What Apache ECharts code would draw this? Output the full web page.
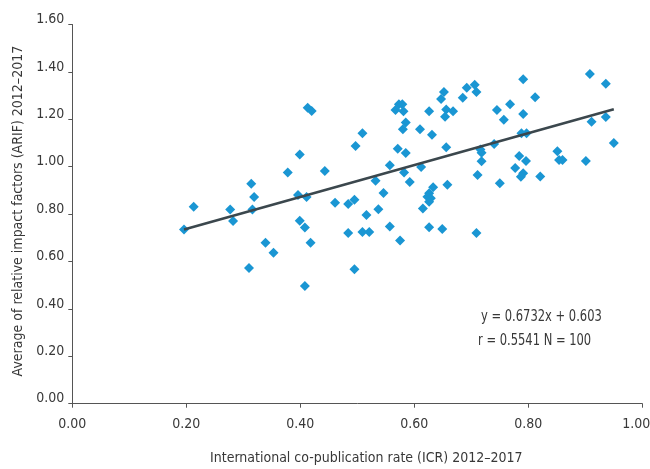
<!DOCTYPE html>
<html>
<head>
<meta charset="utf-8">
<script src="https://cdn.jsdelivr.net/npm/echarts/dist/echarts.min.js"></script>
<style>
html,body{margin:0;padding:0;background:#fff;}
#chart{width:650px;height:469px;}
</style>
</head>
<body>
<div id="chart"></div>
<script>
const icr = [0.196,0.213,0.277,0.282,0.314,0.319,0.316,0.339,0.353,0.310,0.378,0.399,0.413,0.420,0.396,0.411,0.399,0.408,0.418,0.408,0.443,0.461,
 0.509,0.497,0.484,0.495,0.516,0.537,0.546,0.532,0.557,0.571,0.585,0.582,0.592,0.484,0.509,0.521,0.557,0.575,0.495,
 0.573,0.579,0.567,0.581,
 0.585,0.580,0.610,0.626,0.631,0.612,0.656,0.647,0.652,0.656,0.654,0.668,0.685,0.692,0.706,0.709,
 0.633,0.626,0.623,0.629,0.626,
 0.615,0.658,0.626,0.649,0.709,0.711,0.718,
 0.718,0.716,
 0.740,0.745,0.757,0.768,0.791,0.791,0.812,0.788,0.797,0.784,0.796,0.777,0.791,0.787,0.750,0.821,0.851,0.854,0.860,0.901,0.908,0.936,0.911,0.936,0.950];
const arif = [0.735,0.831,0.819,0.771,0.928,0.872,0.819,0.679,0.637,0.573,0.976,1.052,1.249,1.235,0.881,0.872,0.772,0.743,0.679,0.497,0.982,0.848,
 1.141,1.087,0.843,0.861,0.796,0.820,0.889,0.941,1.006,1.076,1.058,0.976,0.935,0.720,0.724,0.724,0.748,0.689,0.567,
 1.263,1.263,1.239,1.234,
 1.187,1.158,1.158,1.234,1.135,0.999,1.082,1.286,1.315,1.241,1.211,1.234,1.291,1.333,1.346,1.315,
 0.913,0.888,0.873,0.867,0.852,
 0.824,0.924,0.744,0.737,0.720,0.965,1.023,
 1.059,1.073,
 1.096,1.239,1.198,1.263,1.369,1.222,1.293,1.141,1.141,1.045,1.024,0.995,0.972,0.958,0.930,0.959,1.065,1.028,1.028,1.024,1.391,1.350,1.190,1.210,1.100];
const trendSlope = 0.6732;
const trendIntercept = 0.603;
const equationLines = ["y = 0.6732x + 0.603", "r = 0.5541 N = 100"];
const xAxisTitle = "International co-publication rate (ICR) 2012\u20132017";
const yAxisTitle = "Average of relative impact factors (ARIF) 2012\u20132017";

const FONT = '"DejaVu Sans Condensed","DejaVu Sans",sans-serif';
const TXT = '#383838';
const points = icr.map((x, i) => [x, arif[i]]);
const xMin = Math.min(...icr), xMax = Math.max(...icr);
const trend = [[xMin, trendSlope * xMin + trendIntercept], [xMax, trendSlope * xMax + trendIntercept]];

const chart = echarts.init(document.getElementById('chart'), null, {renderer: 'canvas'});
chart.setOption({
  animation: false,
  backgroundColor: '#fff',
  grid: {left: 72.3, right: 7.7, top: 24.5, bottom: 65.3, containLabel: false, outerBoundsMode: 'none'},
  xAxis: {
    type: 'value', min: 0, max: 1, interval: 0.2,
    name: xAxisTitle, nameLocation: 'middle', nameGap: 48,
    nameTextStyle: {fontFamily: FONT, fontSize: 14, color: TXT, padding: [0, 0, 0, 18]},
    axisLine: {show: true, lineStyle: {color: '#555', width: 1}},
    axisTick: {show: true, length: 4, lineStyle: {color: '#555'}},
    splitLine: {show: false},
    axisLabel: {
      fontFamily: FONT, fontSize: 14, color: TXT, margin: 14,
      formatter: v => v === 1 ? '{last|' + v.toFixed(2) + '}' : v.toFixed(2),
      rich: {last: {fontFamily: FONT, fontSize: 14, color: TXT, padding: [0, 12, 0, 0]}}
    }
  },
  yAxis: {
    type: 'value', min: 0, max: 1.6, interval: 0.2,
    name: yAxisTitle, nameLocation: 'middle', nameGap: 45,
    nameTextStyle: {fontFamily: FONT, fontSize: 14, color: TXT, padding: [0, 0, 0, 6]},
    axisLine: {show: true, lineStyle: {color: '#555', width: 1}},
    axisTick: {show: true, length: 4, lineStyle: {color: '#555'}},
    splitLine: {show: false},
    axisLabel: {fontFamily: FONT, fontSize: 14, color: TXT, margin: 8, verticalAlign: 'bottom', lineHeight: 10, formatter: v => v.toFixed(2)}
  },
  series: [
    {
      type: 'scatter', data: points, symbol: 'diamond', symbolSize: 10,
      itemStyle: {color: '#1a96d3', opacity: 1}, z: 2
    },
    {
      type: 'line', data: trend, symbol: 'none', z: 3,
      lineStyle: {color: '#3b474d', width: 2.6}
    }
  ],
  graphic: [
    {type: 'text', x: 481, y: 309, scaleX: 0.8, style: {text: equationLines[0], fontFamily: FONT, fontSize: 16, fill: TXT}},
    {type: 'text', x: 478, y: 333, scaleX: 0.8, style: {text: equationLines[1], fontFamily: FONT, fontSize: 16, fill: TXT}}
  ]
});
</script>
</body>
</html>
